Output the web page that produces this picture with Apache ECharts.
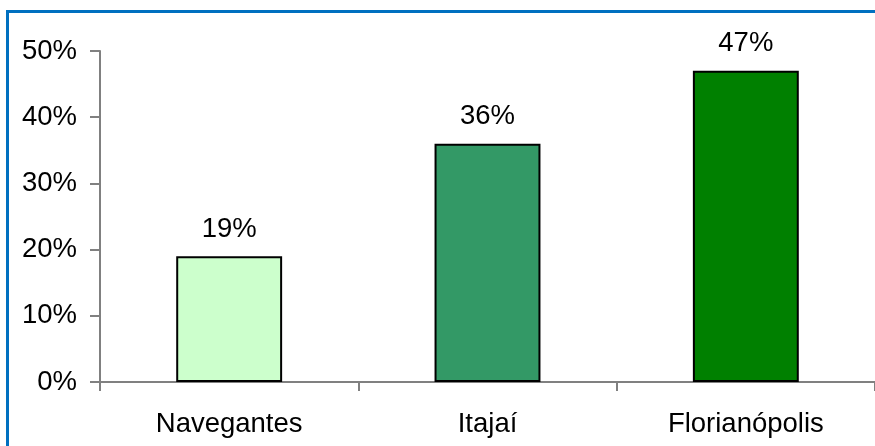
<!DOCTYPE html>
<html>
<head>
<meta charset="utf-8">
<style>
  html, body { margin: 0; padding: 0; background: #ffffff; overflow: hidden; }
  #chart { width: 875px; height: 446px; }
</style>
<script src="https://cdn.jsdelivr.net/npm/echarts@6/dist/echarts.min.js"></script>
</head>
<body>
<div id="chart"></div>
<script>
// Share per city (percent)
const cities = ['Navegantes', 'Itajaí', 'Florianópolis'];
const shares = [19, 36, 47];
const barColors = ['#CCFFCC', '#339966', '#008000'];
const yTicks = [0, 10, 20, 30, 40, 50];

const FONT = '"Liberation Sans", Arial, sans-serif';
const FONT_SIZE = 27.5;
const FRAME_COLOR = '#0070C0';

const chart = echarts.init(document.getElementById('chart'), null, { renderer: 'canvas' });

chart.setOption({
  animation: false,
  backgroundColor: '#ffffff',
  graphic: [
    // frame: top and left bands, continuing past the canvas edges
    { type: 'rect', silent: true, z: 100,
      shape: { x: 6, y: 10, width: 869, height: 3 }, style: { fill: FRAME_COLOR } },
    { type: 'rect', silent: true, z: 100,
      shape: { x: 6, y: 10, width: 3, height: 436 }, style: { fill: FRAME_COLOR } }
  ],
  grid: { left: 100, top: 51, width: 778, height: 331 },
  xAxis: {
    type: 'category',
    data: cities,
    boundaryGap: true,
    axisLine: { lineStyle: { color: '#808080', width: 2 } },
    axisTick: { show: true, length: 9, lineStyle: { color: '#808080', width: 2 } },
    axisLabel: { color: '#000', fontFamily: FONT, fontSize: FONT_SIZE, margin: 28 }
  },
  yAxis: {
    type: 'value',
    min: yTicks[0],
    max: yTicks[yTicks.length - 1],
    interval: 10,
    splitLine: { show: false },
    axisLine: { show: true, lineStyle: { color: '#808080', width: 2 } },
    axisTick: { show: true, length: 10, lineStyle: { color: '#808080', width: 2 } },
    axisLabel: { color: '#000', fontFamily: FONT, fontSize: FONT_SIZE, margin: 23, formatter: '{value}%' }
  },
  series: [{
    type: 'bar',
    barWidth: '41%',
    data: shares.map((v, i) => ({
      value: v,
      itemStyle: { color: barColors[i], borderColor: '#000', borderWidth: 2 }
    })),
    label: {
      show: true,
      position: 'top',
      distance: 13,
      color: '#000',
      fontFamily: FONT,
      fontSize: FONT_SIZE,
      formatter: '{c}%'
    }
  }]
});
</script>
</body>
</html>
